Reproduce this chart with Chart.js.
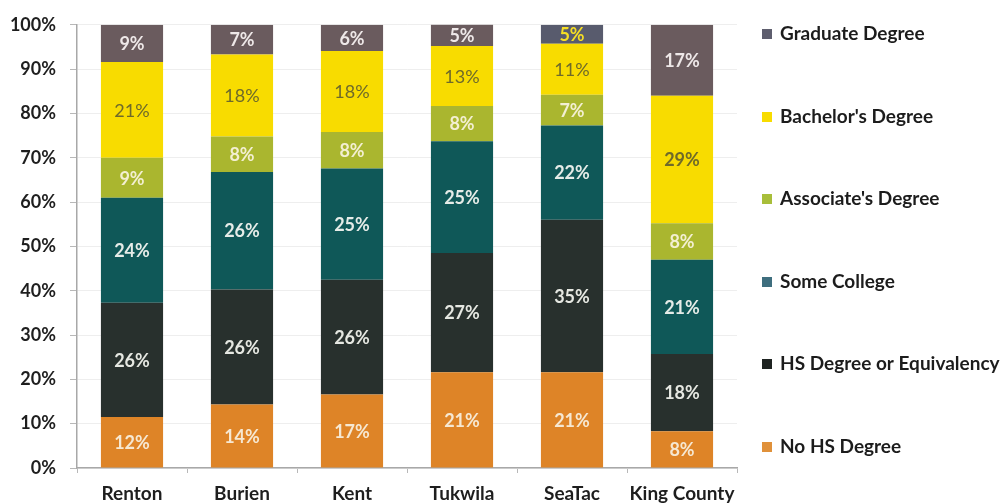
<!DOCTYPE html>
<html>
<head>
<meta charset="utf-8">
<script src="https://cdn.jsdelivr.net/npm/chart.js@4.4.1/dist/chart.umd.min.js"></script>
<style>
  html, body { margin: 0; padding: 0; background: #fff; }
  #wrap { position: relative; width: 1005px; height: 504px; }
</style>
</head>
<body>
<div id="wrap"><canvas id="edu"></canvas></div>
<script>
// categories and series (segment heights, printed labels as shown)
const places = ['Renton', 'Burien', 'Kent', 'Tukwila', 'SeaTac', 'King County'];
const yTicks = [0, 10, 20, 30, 40, 50, 60, 70, 80, 90, 100];

const noHS      = [11.5, 14.3, 16.6, 21.6, 21.6, 8.3];
const hsDegree  = [25.8, 26.0, 25.9, 26.9, 34.4, 17.4];
const someColl  = [23.7, 26.5, 25.1, 25.2, 21.3, 21.3];
const associate = [9.0, 8.0, 8.2, 8.0, 6.9, 8.2];
const bachelor  = [21.6, 18.5, 18.3, 13.5, 11.5, 28.8];
const graduate  = [8.4, 6.7, 5.9, 4.9, 4.3, 16.0];

const noHSLbl      = [12, 14, 17, 21, 21, 8];
const hsDegreeLbl  = [26, 26, 26, 27, 35, 18];
const someCollLbl  = [24, 26, 25, 25, 22, 21];
const associateLbl = [9, 8, 8, 8, 7, 8];
const bachelorLbl  = [21, 18, 18, 13, 11, 29];
const graduateLbl  = [9, 7, 6, 5, 5, 17];

const FONT = 'Lato, Calibri, Carlito, "Open Sans", sans-serif';

function ds(label, data, labels, color, legendColor, txtColor, txtWeight) {
  return {
    label: label, data: data, shownLabels: labels,
    backgroundColor: color, borderColor: color, legendColor: legendColor,
    txtColor: txtColor, txtWeight: txtWeight,
    borderWidth: 0, stack: 's'
  };
}

const datasets = [
  ds('No HS Degree', noHS, noHSLbl, '#DE8427', '#E0913A', '#F6E8D2', 'bold'),
  ds('HS Degree or Equivalency', hsDegree, hsDegreeLbl, '#28302D', '#1F2422', '#E6E8E2', 'bold'),
  ds('Some College', someColl, someCollLbl, '#0F5858', '#3E6E7E', '#E6ECE8', 'bold'),
  ds("Associate's Degree", associate, associateLbl, '#AAB62F', '#A8BE3A', '#F3EFD2', 'bold'),
  ds("Bachelor's Degree", bachelor, bachelorLbl, '#F8DC00', '#F8DC00', '#6E6A2A', 'normal'),
  ds('Graduate Degree', graduate, graduateLbl,
     ['#6A5B5E', '#6A5B5E', '#6A5B5E', '#6A5B5E', '#585B6D', '#6A5B5E'],
     '#5E5E6E', ['#EEE8E8', '#EEE8E8', '#EEE8E8', '#EEE8E8', '#F6DE24', '#EEE8E8'], 'bold')
];

// labels inside the segments
const segLabels = {
  id: 'segLabels',
  afterDatasetsDraw(chart) {
    const ctx = chart.ctx;
    ctx.save();
    ctx.textAlign = 'center';
    ctx.textBaseline = 'middle';
    chart.data.datasets.forEach((d, i) => {
      const meta = chart.getDatasetMeta(i);
      meta.data.forEach((bar, j) => {
        const w = (d.txtWeight === 'normal' && j === 5) ? 'bold' : d.txtWeight;
        ctx.font = w + ' 18px ' + FONT;
        ctx.fillStyle = Array.isArray(d.txtColor) ? d.txtColor[j] : d.txtColor;
        const y = (bar.y + bar.base) / 2;
        ctx.fillText(d.shownLabels[j] + '%', bar.x, y + 1);
      });
    });
    ctx.restore();
  }
};

// legend on the right, top to bottom: graduate first
const sideLegend = {
  id: 'sideLegend',
  afterDraw(chart) {
    const ctx = chart.ctx;
    const rows = [33, 116, 198, 281, 363, 446];
    const order = chart.data.datasets.slice().reverse();
    ctx.save();
    ctx.font = 'bold 19px ' + FONT;
    ctx.textBaseline = 'middle';
    ctx.textAlign = 'left';
    order.forEach((d, k) => {
      ctx.fillStyle = d.legendColor;
      ctx.fillRect(762, rows[k] - 4, 10, 10);
      ctx.fillStyle = '#1C1C1C';
      ctx.fillText(d.label, 780, rows[k] + 1);
    });
    ctx.restore();
  }
};

new Chart(document.getElementById('edu'), {
  type: 'bar',
  data: { labels: places, datasets: datasets },
  options: {
    responsive: true,
    maintainAspectRatio: false,
    animation: false,
    layout: { padding: { top: 22, right: 268, left: 0, bottom: 0 } },
    categoryPercentage: 0.565,
    barPercentage: 1,
    plugins: { legend: { display: false }, tooltip: { enabled: false } },
    scales: {
      x: {
        stacked: true,
        afterFit(s) { s.height = 36; },
        grid: { drawOnChartArea: false, color: '#B8B8B8', tickLength: 5 },
        border: { color: '#A8A8A8', width: 1.5 },
        ticks: {
          color: '#1E1E1E', font: { family: FONT, size: 19, weight: 'bold' }, padding: 9,
          maxRotation: 0, minRotation: 0, autoSkip: false
        }
      },
      y: {
        stacked: true,
        min: 0, max: 100,
        afterFit(s) { s.width = 77; },
        afterBuildTicks(s) { s.ticks = yTicks.map(v => ({ value: v })); },
        grid: { color: '#EEEEEE', tickColor: '#B8B8B8', tickLength: 7 },
        border: { color: '#A8A8A8', width: 1.5 },
        ticks: {
          color: '#1E1E1E', padding: 14,
          font: { family: FONT, size: 18, weight: 'bold' },
          callback: v => v + '%'
        }
      }
    }
  },
  plugins: [segLabels, sideLegend]
});
</script>
</body>
</html>
